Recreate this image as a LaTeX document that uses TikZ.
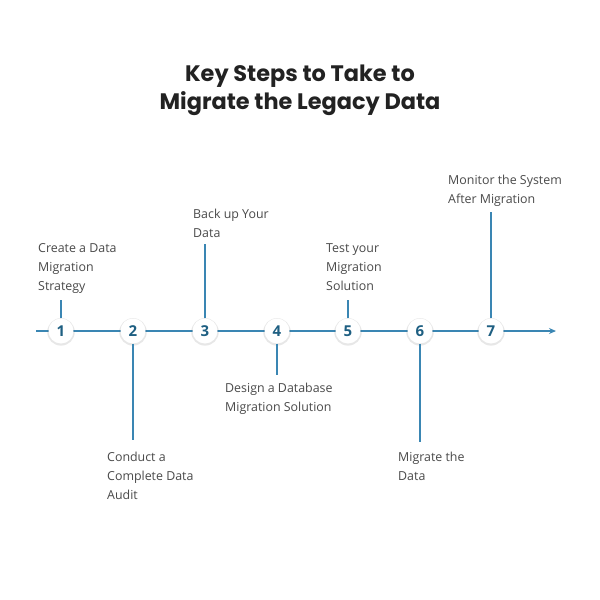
\documentclass[tikz,border=0pt]{standalone}
\usepackage{fontspec}
\setmainfont{Open Sans}
\newfontfamily\titlefont{Poppins}
\usetikzlibrary{arrows.meta,shadows}
\definecolor{linec}{HTML}{3A86B3}
\definecolor{numc}{HTML}{1E5F82}
\definecolor{txtc}{HTML}{4A4A4A}
\definecolor{ttlc}{HTML}{222222}
\tikzset{
  x=1pt,y=-1pt,
  stepcirc/.style={circle,fill=white,minimum size=25pt,inner sep=0pt,
    text=numc,font=\bfseries\fontsize{15}{15}\selectfont,
    drop shadow={shadow xshift=0pt,shadow yshift=-0.8pt,shadow scale=1.1,opacity=0.13,fill=black!70}},
  stem/.style={draw=linec,line width=1.5pt},
  label/.style={anchor=base west,align=left,inner sep=0pt,text=txtc,
    font=\fontsize{12.4}{19}\selectfont},
  ttl/.style={align=center,text=ttlc,inner sep=0pt,
    font=\titlefont\bfseries\fontsize{22.4}{28}\selectfont}
}
\begin{document}
\begin{tikzpicture}
\useasboundingbox[fill=white] (0,0) rectangle (600,600);
\node[ttl,anchor=base] (title) at (300,109) {Key Steps to Take to\\Migrate the Legacy Data};
\coordinate (start) at (36,331);
\coordinate (end) at (556,331);
\draw[stem,-{Stealth[length=7pt,width=6pt]}] (start) -- (end);
% circles
\node[stepcirc] (c1) at (61,331) {1};
\node[stepcirc] (c2) at (133,331) {2};
\node[stepcirc] (c3) at (205,331) {3};
\node[stepcirc] (c4) at (277,331) {4};
\node[stepcirc] (c5) at (348,331) {5};
\node[stepcirc] (c6) at (420,331) {6};
\node[stepcirc] (c7) at (491,331) {7};
% stem end points
\coordinate (s1) at (61,300);
\coordinate (s2) at (133,440);
\coordinate (s3) at (205,244);
\coordinate (s4) at (277,375);
\coordinate (s5) at (348,300);
\coordinate (s6) at (420,442);
\coordinate (s7) at (491,212);
\draw[stem] (c1.north) -- (s1);
\draw[stem] (c2.south) -- (s2);
\draw[stem] (c3.north) -- (s3);
\draw[stem] (c4.south) -- (s4);
\draw[stem] (c5.north) -- (s5);
\draw[stem] (c6.south) -- (s6);
\draw[stem] (c7.north) -- (s7);
% labels (positions are the baselines of the last lines)
\node[label] (t1) at (38,290) {Create a Data\\Migration\\Strategy};
\node[label] (t2) at (107,499) {Conduct a\\Complete Data\\Audit};
\node[label] (t3) at (193,237) {Back up Your\\Data};
\node[label] (t4) at (225,411) {Design a Database\\Migration Solution};
\node[label] (t5) at (326,290) {Test your\\Migration\\Solution};
\node[label] (t6) at (398,480) {Migrate the\\Data};
\node[label] (t7) at (448,203) {Monitor the System\\After Migration};
\end{tikzpicture}
\end{document}
